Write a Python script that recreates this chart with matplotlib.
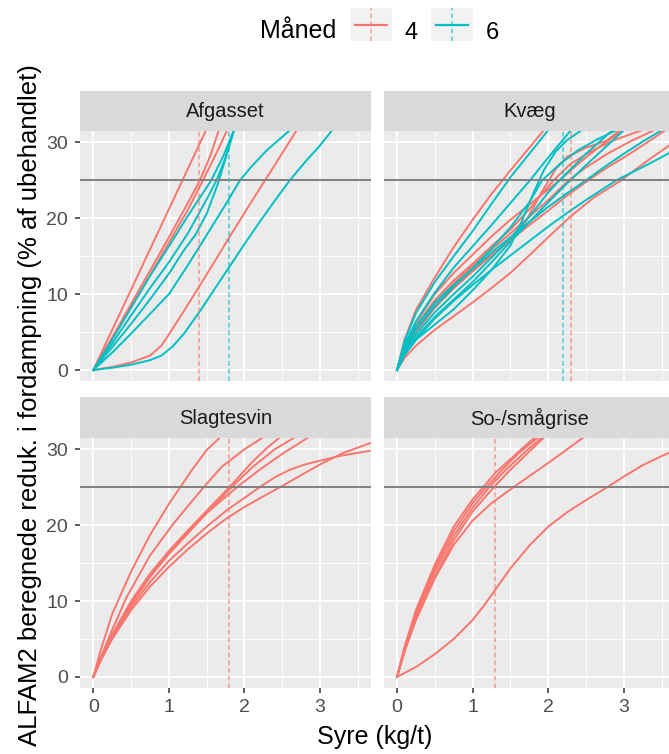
import matplotlib
matplotlib.use('Agg')
import matplotlib.pyplot as plt
from matplotlib.legend_handler import HandlerBase
from matplotlib.lines import Line2D
from matplotlib.patches import Rectangle

plt.rcParams['font.family'] = ['Liberation Sans', 'DejaVu Sans']

# ---------------- data ----------------
facets = ['Afgasset', 'Kvæg', 'Slagtesvin', 'So-/smågrise']
months = ['4', '6']
threshold = 25
x_ticks = [0, 1, 2, 3]
y_ticks = [0, 10, 20, 30]

# vertical dashed reference lines (kg/t) per facet and month
vline_4 = {'Afgasset': 1.4, 'Kvæg': 2.3, 'Slagtesvin': 1.8, 'So-/smågrise': 1.3}
vline_6 = {'Afgasset': 1.8, 'Kvæg': 2.2}

# curves: list of (x-list, y-list)
afgasset_4 = [
    ([0, 0.5, 1.0, 1.5], [0, 10.6, 21.2, 31.8]),
    ([0, 0.25, 0.5, 0.75, 1.0, 1.25, 1.41, 1.55, 1.66], [0, 4.3, 8.7, 13.1, 17.5, 22.0, 25.0, 28.3, 31.6]),
    ([0, 0.25, 0.5, 0.75, 1.0, 1.25, 1.45, 1.62, 1.77], [0, 4.1, 8.3, 12.5, 16.8, 21.1, 25.0, 28.4, 31.6]),
    ([0, 0.25, 0.5, 0.75, 0.9, 1.0, 1.2, 1.5, 1.8, 2.1, 2.4, 2.69],
     [0, 0.4, 1.0, 1.9, 3.2, 4.7, 7.8, 12.6, 17.5, 22.3, 27.0, 31.6]),
]
afgasset_6 = [
    ([0, 0.25, 0.5, 0.75, 1.0, 1.25, 1.56, 1.72, 1.86], [0, 4.0, 8.2, 12.4, 16.3, 20.3, 25.0, 28.2, 31.6]),
    ([0, 0.25, 0.5, 0.75, 1.0, 1.25, 1.5, 1.63, 1.75, 1.86], [0, 3.5, 7.2, 10.8, 14.2, 18.0, 22.5, 25.0, 28.0, 31.6]),
    ([0, 0.25, 0.5, 0.75, 1.0, 1.2, 1.35, 1.5, 1.65, 1.86], [0, 3.0, 6.1, 9.3, 12.7, 15.8, 17.8, 20.6, 24.6, 31.6]),
    ([0, 0.25, 0.5, 0.75, 1.0, 1.25, 1.5, 1.75, 1.94, 2.1, 2.3, 2.45, 2.6],
     [0, 2.3, 4.8, 7.4, 10.0, 13.8, 17.8, 21.8, 25.0, 26.9, 29.0, 30.3, 31.6]),
    ([0, 0.25, 0.5, 0.75, 0.9, 1.05, 1.2, 1.4, 1.6, 1.8, 2.0, 2.2, 2.4, 2.6, 2.8, 3.0, 3.16],
     [0, 0.3, 0.7, 1.3, 1.9, 3.1, 4.8, 7.6, 10.6, 13.6, 16.6, 19.5, 22.3, 25.0, 27.4, 29.6, 31.6]),
]
kvaeg_4 = [
    ([0, 0.1, 0.25, 0.5, 0.75, 1.0, 1.25, 1.5, 1.75, 1.95],
     [0, 4.0, 7.9, 12.2, 16.2, 19.8, 23.2, 26.3, 29.3, 31.7]),
    ([0, 0.1, 0.25, 0.5, 0.75, 1.0, 1.25, 1.5, 1.7, 1.9, 2.1, 2.25, 2.5, 2.77, 2.95],
     [0, 2.6, 5.0, 8.2, 10.8, 13.1, 15.2, 17.0, 19.5, 23.2, 26.5, 28.1, 29.3, 30.2, 31.6]),
    ([0, 0.1, 0.25, 0.5, 0.75, 1.0, 1.25, 1.5, 1.75, 2.07, 2.3, 2.6, 2.9, 3.24],
     [0, 3.0, 5.8, 9.2, 11.8, 14.0, 16.3, 18.5, 21.2, 25.0, 27.2, 29.0, 30.4, 31.6]),
    ([0, 0.1, 0.25, 0.5, 0.75, 1.0, 1.25, 1.5, 1.75, 2.0, 2.27, 2.5, 2.8, 3.1, 3.4],
     [0, 2.8, 5.4, 8.8, 11.4, 13.7, 15.9, 18.0, 20.2, 22.4, 25.0, 26.7, 28.6, 30.2, 31.6]),
    ([0, 0.1, 0.25, 0.5, 0.75, 1.0, 1.25, 1.5, 1.75, 2.0, 2.25, 2.53, 2.75, 3.0, 3.25, 3.55],
     [0, 2.6, 5.1, 8.3, 10.8, 13.0, 15.1, 17.1, 19.1, 21.0, 23.0, 25.0, 26.5, 28.0, 29.6, 31.6]),
    ([0, 0.1, 0.25, 0.5, 0.75, 1.0, 1.25, 1.5, 1.75, 2.0, 2.29, 2.6, 2.95, 3.3, 3.66],
     [0, 1.6, 3.2, 5.3, 7.1, 8.9, 10.8, 12.8, 15.1, 17.5, 20.2, 22.7, 24.9, 27.5, 30.0]),
    ([0, 0.1, 0.25, 0.5, 0.75, 1.0, 1.25, 1.5, 1.75, 2.0, 2.15, 2.4, 2.7, 3.0],
     [0, 3.2, 6.2, 10.0, 12.8, 15.2, 17.6, 19.8, 21.8, 23.8, 25.0, 27.2, 29.6, 31.6]),
]
kvaeg_6 = [
    ([0, 0.1, 0.25, 0.5, 0.75, 1.0, 1.25, 1.5, 1.75, 2.0],
     [0, 3.8, 7.5, 11.6, 15.0, 18.3, 21.9, 25.4, 28.5, 31.6]),
    ([0, 0.1, 0.25, 0.5, 0.75, 1.0, 1.25, 1.5, 1.76, 2.0, 2.3],
     [0, 3.3, 6.4, 10.2, 13.5, 16.3, 19.1, 22.0, 25.0, 28.0, 31.6]),
    ([0, 0.1, 0.25, 0.5, 0.75, 1.0, 1.25, 1.5, 1.65, 1.8, 1.94, 2.1, 2.25, 2.44],
     [0, 2.0, 4.0, 6.0, 8.0, 10.5, 13.2, 16.4, 19.6, 23.2, 26.3, 28.8, 30.3, 31.6]),
    ([0, 0.1, 0.25, 0.5, 0.75, 1.0, 1.25, 1.5, 1.75, 1.92, 2.15, 2.4, 2.65, 2.9],
     [0, 2.8, 5.3, 8.4, 11.0, 13.4, 16.0, 18.8, 22.1, 25.0, 27.1, 29.0, 30.4, 31.6]),
    ([0, 0.1, 0.25, 0.5, 0.75, 1.0, 1.25, 1.5, 1.75, 2.0, 2.15, 2.5, 2.85],
     [0, 2.4, 4.7, 7.6, 10.0, 12.3, 14.8, 17.4, 20.2, 23.4, 25.0, 28.5, 31.6]),
    ([0, 0.1, 0.25, 0.5, 0.75, 1.0, 1.25, 1.5, 1.75, 2.0, 2.25, 2.5, 2.9, 3.3, 3.66],
     [0, 2.0, 4.0, 6.8, 9.1, 11.2, 13.2, 15.1, 17.0, 18.9, 20.7, 22.4, 25.0, 27.0, 28.9]),
    ([0, 0.1, 0.25, 0.5, 0.75, 1.0, 1.25, 1.5, 1.75, 2.0, 2.25, 2.5, 2.75, 3.0],
     [0, 2.2, 4.3, 7.0, 9.3, 11.6, 14.2, 16.9, 19.5, 22.1, 24.6, 27.0, 29.3, 31.6]),
    ([0, 0.1, 0.25, 0.5, 0.75, 1.0, 1.25, 1.5, 1.75, 2.0, 2.25, 2.5, 2.75, 3.0, 3.25, 3.5],
     [0, 3.0, 5.8, 8.9, 11.2, 13.3, 15.5, 17.5, 19.5, 21.5, 23.3, 25.0, 26.8, 28.5, 30.1, 31.6]),
]
slagtesvin_4 = [
    ([0, 0.1, 0.25, 0.5, 0.75, 1.0, 1.15, 1.3, 1.5, 1.68],
     [0, 3.6, 8.3, 13.9, 18.7, 22.8, 25.0, 27.2, 29.9, 31.6]),
    ([0, 0.1, 0.25, 0.44, 0.75, 1.06, 1.25, 1.46, 1.7, 2.0, 2.25],
     [0, 2.6, 6.2, 10.5, 16.0, 20.2, 22.5, 25.0, 27.7, 30.0, 31.6]),
    ([0, 0.1, 0.25, 0.5, 0.75, 1.0, 1.25, 1.5, 1.8, 2.1, 2.3, 2.47],
     [0, 2.4, 5.6, 10.0, 13.6, 16.6, 19.3, 21.9, 25.0, 28.3, 30.2, 31.6]),
    ([0, 0.1, 0.25, 0.5, 0.75, 1.0, 1.25, 1.5, 1.83, 2.1, 2.4, 2.67],
     [0, 2.3, 5.4, 9.6, 13.2, 16.2, 18.9, 21.6, 25.0, 27.6, 30.0, 31.6]),
    ([0, 0.1, 0.25, 0.5, 0.75, 1.0, 1.25, 1.5, 1.9, 2.2, 2.5, 2.85],
     [0, 2.3, 5.4, 9.6, 13.2, 16.3, 19.2, 21.6, 25.0, 27.3, 29.4, 31.6]),
    ([0, 0.1, 0.25, 0.5, 0.75, 1.0, 1.25, 1.5, 1.77, 2.0, 2.2, 2.4, 2.6, 2.8, 3.0, 3.3, 3.66],
     [0, 2.3, 5.3, 9.2, 12.5, 15.3, 17.6, 19.8, 22.0, 23.6, 25.0, 26.3, 27.3, 28.0, 28.5, 29.2, 29.8]),
    ([0, 0.1, 0.25, 0.5, 0.75, 1.0, 1.25, 1.5, 1.75, 2.0, 2.25, 2.47, 2.75, 3.0, 3.3, 3.66],
     [0, 2.2, 5.0, 8.8, 11.9, 14.5, 16.8, 18.9, 20.8, 22.4, 23.8, 25.0, 26.6, 28.0, 29.5, 30.8]),
]
sosmaa_4 = [
    ([0, 0.1, 0.25, 0.5, 0.75, 1.0, 1.14, 1.3, 1.5, 1.7, 1.83],
     [0, 4.0, 8.8, 14.8, 19.8, 23.4, 25.0, 26.9, 28.7, 30.5, 31.6]),
    ([0, 0.1, 0.25, 0.5, 0.75, 1.0, 1.18, 1.4, 1.6, 1.87],
     [0, 3.8, 8.4, 14.3, 19.2, 22.9, 25.0, 27.4, 29.4, 31.6]),
    ([0, 0.1, 0.25, 0.5, 0.75, 1.0, 1.22, 1.45, 1.7, 1.92],
     [0, 3.6, 8.0, 13.8, 18.6, 22.3, 25.0, 27.4, 29.7, 31.6]),
    ([0, 0.1, 0.25, 0.5, 0.75, 1.0, 1.28, 1.5, 1.75, 1.95],
     [0, 3.4, 7.6, 13.2, 18.0, 21.8, 25.0, 27.3, 29.7, 31.6]),
    ([0, 0.1, 0.25, 0.5, 0.75, 1.0, 1.25, 1.54, 1.8, 2.1, 2.47],
     [0, 3.4, 7.5, 13.0, 17.4, 20.6, 22.9, 25.0, 26.8, 28.9, 31.6]),
    ([0, 0.25, 0.5, 0.75, 1.0, 1.15, 1.3, 1.5, 1.75, 2.0, 2.25, 2.5, 2.78, 3.0, 3.25, 3.5, 3.66],
     [0, 1.3, 3.0, 5.0, 7.5, 9.4, 11.5, 14.3, 17.3, 19.8, 21.7, 23.3, 25.0, 26.4, 27.9, 29.1, 29.8]),
]

curves_4 = {'Afgasset': afgasset_4, 'Kvæg': kvaeg_4, 'Slagtesvin': slagtesvin_4, 'So-/smågrise': sosmaa_4}
curves_6 = {'Afgasset': afgasset_6, 'Kvæg': kvaeg_6, 'Slagtesvin': [], 'So-/smågrise': []}

# ---------------- style ----------------
RED = '#F8766D'
BLUE = '#00BFC4'
W, H = 669, 754

fig = plt.figure(figsize=(W / 100, H / 100), dpi=100)

panel_w = 291.0
lefts = [80.1, 383.8]
rows = [(131.0, 381.4), (437.9, 688.3)]  # (top px, bottom px)
strip_h = 40.5

for i, name in enumerate(facets):
    r, c = divmod(i, 2)
    top, bot = rows[r]
    left = lefts[c]
    ax = fig.add_axes([left / W, 1 - bot / H, panel_w / W, (bot - top) / H])
    ax.set_facecolor('#EBEBEB')
    ax.set_xlim(-0.175, 3.675)
    ax.set_ylim(-1.5, 31.5)
    ax.set_xticks(x_ticks)
    ax.set_xticks([0.5, 1.5, 2.5, 3.5], minor=True)
    ax.set_yticks(y_ticks)
    ax.set_yticks([5, 15, 25], minor=True)
    ax.grid(which='major', color='white', lw=1.3)
    ax.grid(which='minor', color='white', lw=0.65)
    ax.set_axisbelow(True)
    for s in ax.spines.values():
        s.set_visible(False)
    ax.tick_params(which='minor', length=0)
    ax.tick_params(which='major', length=3.6, width=1.1, color='#333333',
                   labelsize=14, labelcolor='#4D4D4D')
    ax.tick_params(axis='y', pad=5)
    ax.tick_params(axis='x', pad=4)
    if c == 1:
        ax.tick_params(axis='y', left=False, labelleft=False)
    if r == 0:
        ax.tick_params(axis='x', bottom=False, labelbottom=False)

    for xs, ys in curves_4[name]:
        ax.plot(xs, ys, color=RED, lw=1.4, solid_joinstyle='round')
    for xs, ys in curves_6[name]:
        ax.plot(xs, ys, color=BLUE, lw=1.4, solid_joinstyle='round')

    ax.axhline(threshold, color='#808080', lw=1.4)
    if name in vline_4:
        ax.axvline(vline_4[name], color=RED, lw=1.1, ls=(0, (3, 2)), alpha=0.7)
    if name in vline_6:
        ax.axvline(vline_6[name], color=BLUE, lw=1.1, ls=(0, (3, 2)), alpha=0.7)

    sax = fig.add_axes([left / W, 1 - top / H, panel_w / W, strip_h / H])
    sax.set_facecolor('#D9D9D9')
    sax.set_xticks([])
    sax.set_yticks([])
    for s in sax.spines.values():
        s.set_visible(False)
    sax.text(0.5, 0.48, name, ha='center', va='center', fontsize=14.5,
             color='#1A1A1A', transform=sax.transAxes)

# axis titles
fig.text(375 / W, 10 / H, 'Syre (kg/t)', ha='center', va='baseline', fontsize=18)
fig.text(37 / W, 349 / H, 'ALFAM2 beregnede reduk. i fordampning (% af ubehandlet)',
         rotation=90, rotation_mode='anchor', ha='center', va='baseline', fontsize=18.5)

KEY_SHIFT = 5.0  # points; key drawn higher relative to label text


class KeyHandler(HandlerBase):
    def create_artists(self, legend, orig_handle, xdescent, ydescent,
                       width, height, fontsize, trans):
        col = orig_handle.get_color()
        x0, y0 = -xdescent, -ydescent + KEY_SHIFT
        bg = Rectangle((x0, y0), width, height, facecolor='#F2F2F2',
                       edgecolor='none', transform=trans)
        hl = Line2D([x0 + 0.12 * width, x0 + 0.88 * width],
                    [y0 + height / 2] * 2, color=col, lw=1.6, transform=trans)
        vl = Line2D([x0 + width / 2] * 2, [y0, y0 + height], color=col,
                    lw=1.1, ls=(0, (3, 2)), alpha=0.7, transform=trans)
        return [bg, hl, vl]


handles = [Line2D([], [], color=RED), Line2D([], [], color=BLUE)]
fs = 17
fs_px = fs * 100 / 72
fig.legend(handles, months, ncol=2, loc='upper left',
           bbox_to_anchor=(350 / W, 1 - (8 + KEY_SHIFT * 100 / 72) / H), frameon=False,
           borderpad=0, borderaxespad=0, fontsize=fs,
           handlelength=42 / fs_px, handleheight=42 / fs_px,
           handletextpad=0.55, columnspacing=0.55,
           handler_map={Line2D: KeyHandler()})
fig.text(260 / W, 1 - 38 / H, 'Måned', ha='left', va='baseline', fontsize=18)

fig.savefig('out.png', dpi=100)
